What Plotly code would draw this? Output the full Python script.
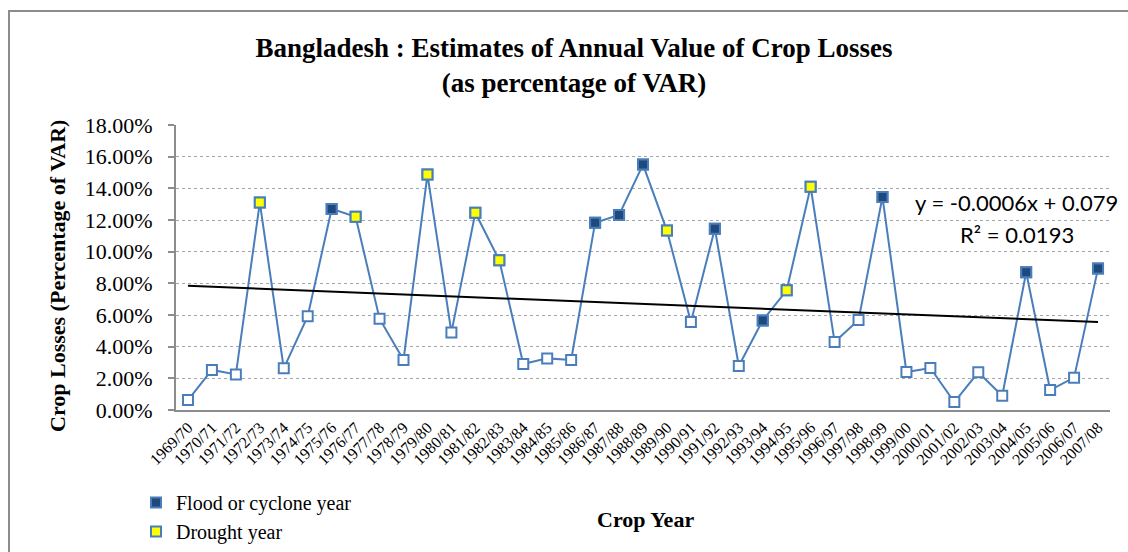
import plotly.graph_objects as go

# Crop years (x categories)
crop_years = [
    "1969/70", "1970/71", "1971/72", "1972/73", "1973/74", "1974/75", "1975/76",
    "1976/77", "1977/78", "1978/79", "1979/80", "1980/81", "1981/82", "1982/83",
    "1983/84", "1984/85", "1985/86", "1986/87", "1987/88", "1988/89", "1989/90",
    "1990/91", "1991/92", "1992/93", "1993/94", "1994/95", "1995/96", "1996/97",
    "1997/98", "1998/99", "1999/00", "2000/01", "2001/02", "2002/03", "2003/04",
    "2004/05", "2005/06", "2006/07", "2007/08",
]

# Crop losses as share of VAR
crop_losses = [
    0.0063, 0.0253, 0.0225, 0.1310, 0.0263, 0.0592, 0.1270,
    0.1220, 0.0577, 0.0316, 0.1487, 0.0490, 0.1246, 0.0945,
    0.0290, 0.0326, 0.0316, 0.1183, 0.1232, 0.1550, 0.1133,
    0.0556, 0.1145, 0.0278, 0.0566, 0.0756, 0.1410, 0.0430,
    0.0569, 0.1345, 0.0240, 0.0265, 0.0050, 0.0238, 0.0090,
    0.0870, 0.0126, 0.0204, 0.0893,
]

# Year type: F = flood or cyclone, D = drought, N = normal
year_type = [
    "N", "N", "N", "D", "N", "N", "F",
    "D", "N", "N", "D", "N", "D", "D",
    "N", "N", "N", "F", "F", "F", "D",
    "N", "F", "N", "F", "D", "D", "N",
    "N", "F", "N", "N", "N", "N", "N",
    "F", "N", "N", "F",
]

# Linear trend as printed on the chart
trend_slope = -0.0006
trend_intercept = 0.079

y_ticks = [0.0, 0.02, 0.04, 0.06, 0.08, 0.10, 0.12, 0.14, 0.16, 0.18]

LINE_BLUE = "#4A7EBB"
FLOOD_BLUE = "#1F497D"
DROUGHT_YELLOW = "#FFFF00"
SERIF = "Liberation Serif, Times New Roman, serif"
SANS = "Lato, Carlito, sans-serif"

fig = go.Figure()

# Main series with open markers
fig.add_trace(go.Scatter(
    x=crop_years, y=crop_losses, mode="lines+markers",
    line=dict(color=LINE_BLUE, width=2),
    marker=dict(symbol="square", size=10, color="white",
                line=dict(color=LINE_BLUE, width=2)),
    showlegend=False, hoverinfo="x+y",
))

# Trend line
trend_y = [trend_slope * (i + 1) + trend_intercept for i in range(len(crop_years))]
fig.add_trace(go.Scatter(
    x=crop_years, y=trend_y, mode="lines",
    line=dict(color="black", width=2),
    showlegend=False, hoverinfo="skip",
))

# Flood / drought highlighted markers
flood_x = [c for c, t in zip(crop_years, year_type) if t == "F"]
flood_y = [v for v, t in zip(crop_losses, year_type) if t == "F"]
drought_x = [c for c, t in zip(crop_years, year_type) if t == "D"]
drought_y = [v for v, t in zip(crop_losses, year_type) if t == "D"]

fig.add_trace(go.Scatter(
    x=flood_x, y=flood_y, mode="markers", name="Flood or cyclone year",
    marker=dict(symbol="square", size=10, color=FLOOD_BLUE,
                line=dict(color=LINE_BLUE, width=2)),
))
fig.add_trace(go.Scatter(
    x=drought_x, y=drought_y, mode="markers", name="Drought year",
    marker=dict(symbol="square", size=10, color=DROUGHT_YELLOW,
                line=dict(color=LINE_BLUE, width=2)),
))

# Zero margins: the paper is the whole figure, the plot area is set by axis domains
W, H = 1128, 552
PL, PR, PT, PB = 176, 1110, 125, 410


def fx(x):
    return x / W


def fy(y):
    return 1 - y / H


fig.update_layout(
    width=W, height=H,
    margin=dict(l=0, r=0, t=0, b=0),
    paper_bgcolor="white", plot_bgcolor="white",
    font=dict(family=SERIF, color="black"),
    title=dict(
        text="<b>Bangladesh : Estimates of Annual Value of Crop Losses<br>(as percentage of VAR)</b>",
        x=fx(574), xanchor="center", y=fy(57), yanchor="top",
        font=dict(family=SERIF, size=27, color="black"),
    ),
    legend=dict(
        x=fx(136), y=fy(551), xanchor="left", yanchor="bottom",
        font=dict(family=SERIF, size=20, color="black"),
        bgcolor="rgba(0,0,0,0)",
    ),
    showlegend=True,
)

fig.update_xaxes(
    domain=[fx(PL), fx(PR)],
    type="category", range=[-0.5, len(crop_years) - 0.5],
    tickangle=-45, tickfont=dict(family=SERIF, size=16, color="black"),
    showgrid=False, showline=True, linecolor="#8C8C8C", linewidth=2,
    ticks="", zeroline=False, automargin=False,
)
fig.update_yaxes(
    domain=[fy(PB), fy(PT)],
    range=[0, 0.18], tickvals=y_ticks, tickformat=".2%",
    tickfont=dict(family=SERIF, size=22, color="black"),
    showgrid=True, gridcolor="#A6A6A6", griddash="dot", gridwidth=1,
    showline=True, linecolor="#8C8C8C", linewidth=2,
    ticks="outside", ticklen=6, tickcolor="#8C8C8C", tickwidth=2,
    ticklabelstandoff=11,
    zeroline=False, automargin=False,
)

# Axis titles
fig.add_annotation(
    text="<b>Crop Losses (Percentage of VAR)</b>", textangle=-90,
    xref="paper", yref="paper", x=fx(57), y=fy(276),
    xanchor="center", yanchor="middle",
    showarrow=False, font=dict(family=SERIF, size=22, color="black"),
)
fig.add_annotation(
    text="<b>Crop Year</b>",
    xref="paper", yref="paper", x=fx(645), y=fy(519),
    xanchor="center", yanchor="middle",
    showarrow=False, font=dict(family=SERIF, size=22, color="black"),
)

# Trend equation
fig.add_annotation(
    text=f"y = {trend_slope}x + {trend_intercept}",
    xref="paper", yref="paper", x=fx(913), y=fy(203),
    xanchor="left", yanchor="middle",
    showarrow=False, font=dict(family=SANS, size=22, color="black"),
)
fig.add_annotation(
    text="R² = 0.0193",
    xref="paper", yref="paper", x=fx(958), y=fy(234),
    xanchor="left", yanchor="middle",
    showarrow=False, font=dict(family=SANS, size=22, color="black"),
)

# Chart frame (top and left edges visible)
fig.add_shape(
    type="rect", xref="paper", yref="paper",
    x0=fx(9), x1=fx(1140), y0=fy(600), y1=fy(11),
    line=dict(color="#8C8C8C", width=2), layer="below",
)

# The page body has a default 8px margin; drop it so the figure sits at the corner
fig.write_html(
    "out.html",
    config={"displayModeBar": False},
    post_script="document.body.style.margin='0';",
)
